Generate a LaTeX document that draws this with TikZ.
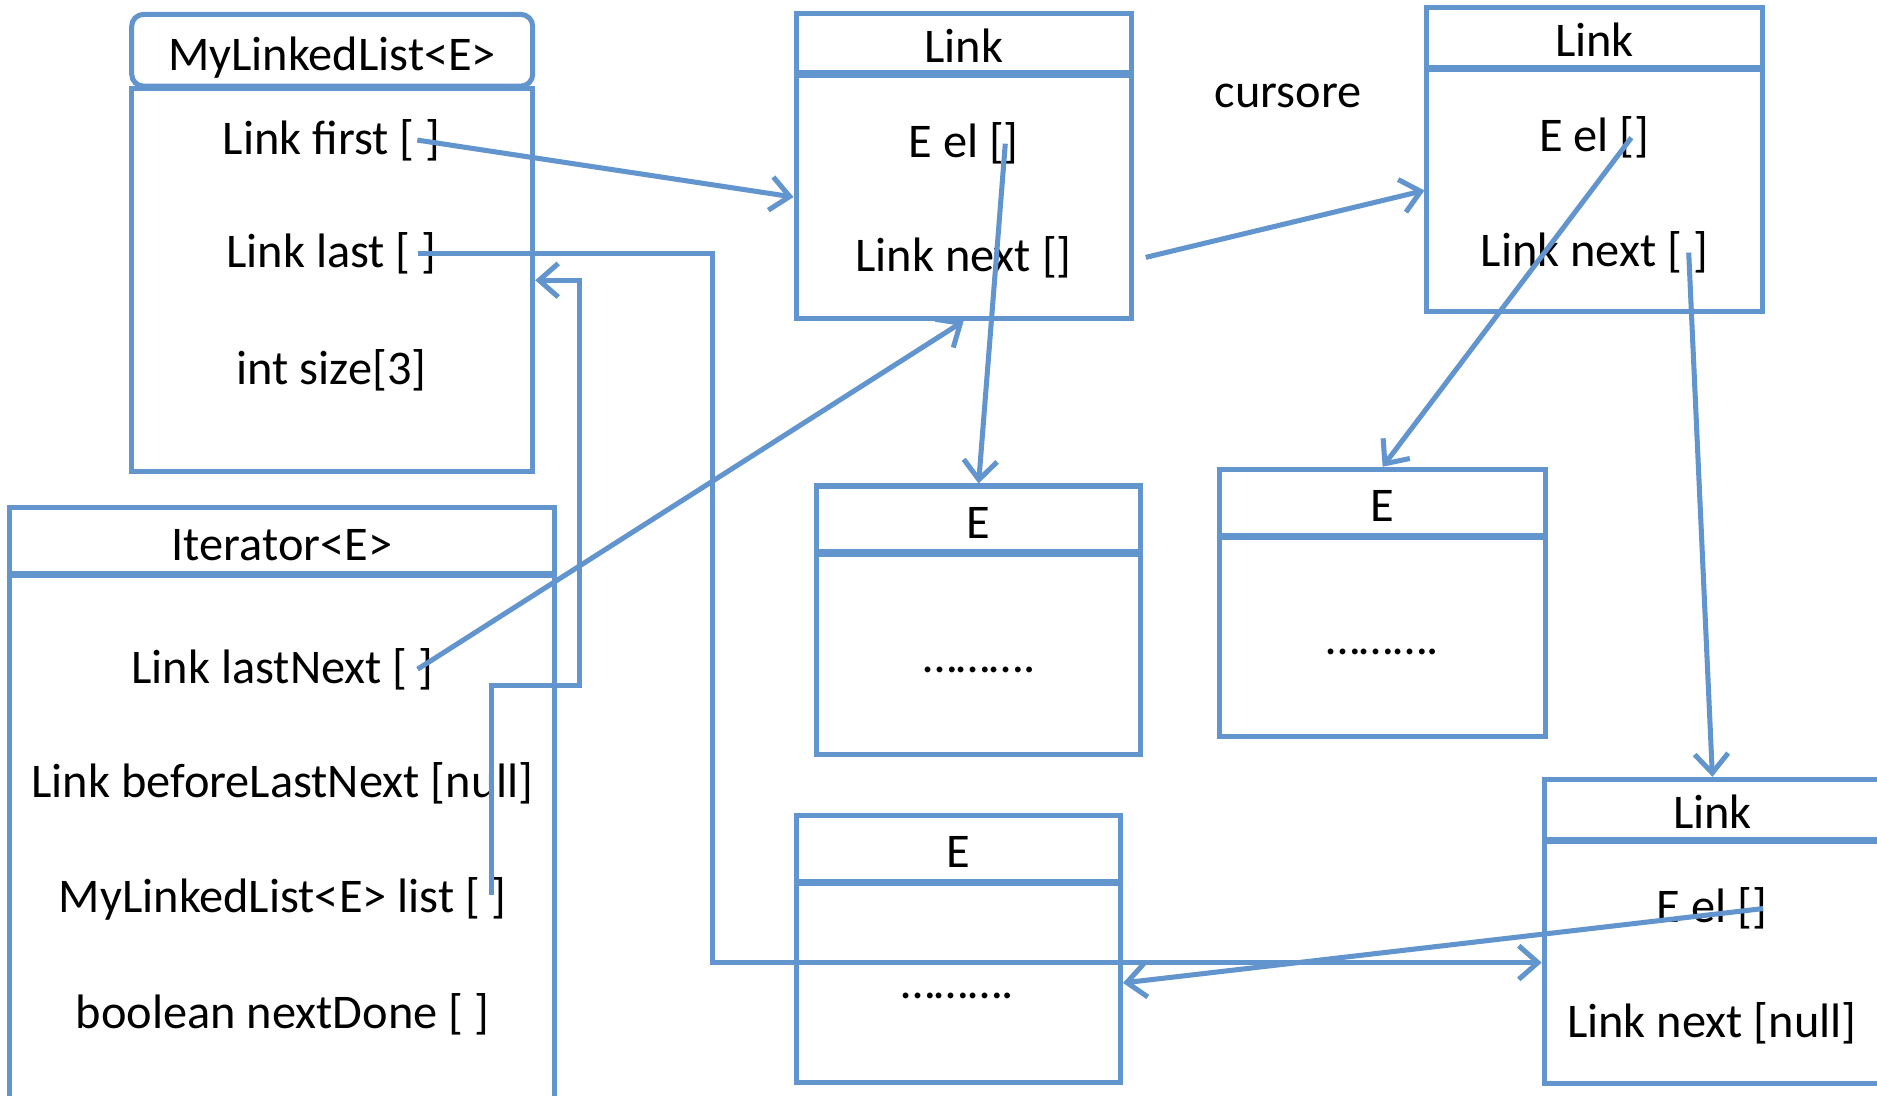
\documentclass[tikz,border=0pt]{standalone}
\usepackage{fontspec}
\setmainfont{Carlito}
\usetikzlibrary{arrows.meta,positioning}
\definecolor{linkblue}{RGB}{98,149,205}
\tikzset{
  box/.style={draw=linkblue, line width=1.2pt, rectangle, inner sep=0pt, text height=3.8mm, text depth=0.5mm},
  field/.style={inner sep=0pt},
  ref/.style={draw=linkblue, line width=1.2pt, ->, >={Straight Barb[length=1.6mm,width=2.8mm]}},
}

\begin{document}
\begin{tikzpicture}[font=\fontsize{11.5}{13.5}\selectfont]
    \clip (0,0) rectangle (15.68,-9.15);

    % list object
    \node[box, rounded corners=1mm, minimum width=3.35cm, minimum height=0.6cm] (mllhead) at (2.775,-0.42) {MyLinkedList<E>};
    \node[box, minimum width=3.35cm, minimum height=3.2cm, below=-0.6pt of mllhead] (mllbody) {};
    \node[field] (first) at (2.77,-1.17) {Link first [ ]};
    \node[field] (last) at (2.77,-2.12) {Link last [ ]};
    \node[field] (size) at (2.77,-3.09) {int size[3]};

    % iterator object
    \node[box, minimum width=4.55cm, minimum height=0.55cm] (ithead) at (2.355,-4.515) {Iterator<E>};
    \node[box, minimum width=4.55cm, minimum height=4.41cm, below=-0.6pt of ithead] (itbody) {};
    \node[field] (lastnext) at (2.36,-5.59) {Link lastNext [ ]};
    \node[field] (beforelast) at (2.36,-6.54) {Link beforeLastNext [null]};
    \node[field] (list) at (2.36,-7.51) {MyLinkedList<E> list [ ]};
    \node[field] (done) at (2.36,-8.47) {boolean nextDone [ ]};

    % links
    \node[box, minimum width=2.8cm, minimum height=0.5cm] (lonehead) at (8.05,-0.36) {Link};
    \node[box, minimum width=2.8cm, minimum height=2.03cm, below=-0.6pt of lonehead] (lonebody) {};
    \node[field] (elone) at (8.05,-1.20) {E el []};
    \node[field] (nextone) at (8.05,-2.15) {Link next []};

    \node[box, minimum width=2.8cm, minimum height=0.5cm] (ltwohead) at (13.32,-0.31) {Link};
    \node[box, minimum width=2.8cm, minimum height=2.02cm, below=-0.6pt of ltwohead] (ltwobody) {};
    \node[field] (eltwo) at (13.32,-1.15) {E el []};
    \node[field] (nexttwo) at (13.32,-2.11) {Link next [ ]};

    \node[box, minimum width=2.81cm, minimum height=0.5cm] (lthreehead) at (14.305,-6.76) {Link};
    \node[box, minimum width=2.81cm, minimum height=2.02cm, below=-0.6pt of lthreehead] (lthreebody) {};
    \node[field] (elthree) at (14.30,-7.59) {E el []};
    \node[field] (nextthree) at (14.30,-8.55) {Link next [null]};

    \node (cursor) at (10.76,-0.80) {cursore};

    % elements
    \node[box, minimum width=2.71cm, minimum height=0.55cm] (eonehead) at (8.175,-4.335) {E};
    \node[box, minimum width=2.71cm, minimum height=1.67cm, below=-0.6pt of eonehead] (eonebody) {};
    \node[field] (dotsone) at (8.18,-5.60) {……….};

    \node[box, minimum width=2.72cm, minimum height=0.55cm] (etwohead) at (11.55,-4.195) {E};
    \node[box, minimum width=2.72cm, minimum height=1.66cm, below=-0.6pt of etwohead] (etwobody) {};
    \node[field] (dotstwo) at (11.55,-5.45) {……….};

    \node[box, minimum width=2.71cm, minimum height=0.55cm] (ethreehead) at (8.005,-7.085) {E};
    \node[box, minimum width=2.71cm, minimum height=1.66cm, below=-0.6pt of ethreehead] (ethreebody) {};
    \node[field] (dotsthree) at (8.00,-8.32) {……….};

    % references
    \coordinate (lastbend) at (5.95,-5);
    \coordinate (liststep) at (4.84,-5.73);
    \draw[ref] ([xshift=-2mm]first.east) -- (lonebody.west);
    \draw[ref] ([xshift=-1.6mm]last.east) -| (lastbend) |- (lthreebody.west);
    \draw[ref] ([xshift=-1.3mm,yshift=0.3mm]list.east) |- (liststep) |- (mllbody.east);
    \draw[ref] ([xshift=-1.4mm]lastnext.east) -- (lonebody.south);
    \draw[ref] ([xshift=-1.2mm]elone.east) -- (eonehead.north);
    \draw[ref] ([xshift=6.1mm]nextone.east) -- (ltwobody.west);
    \draw[ref] ([xshift=-1.6mm]eltwo.east) -- (etwohead.north);
    \draw[ref] ([xshift=-1.7mm]nexttwo.east) -- (lthreehead.north);
    \draw[ref] ([xshift=-0.4mm]elthree.east) -- (ethreebody.east);
\end{tikzpicture}
\end{document}
